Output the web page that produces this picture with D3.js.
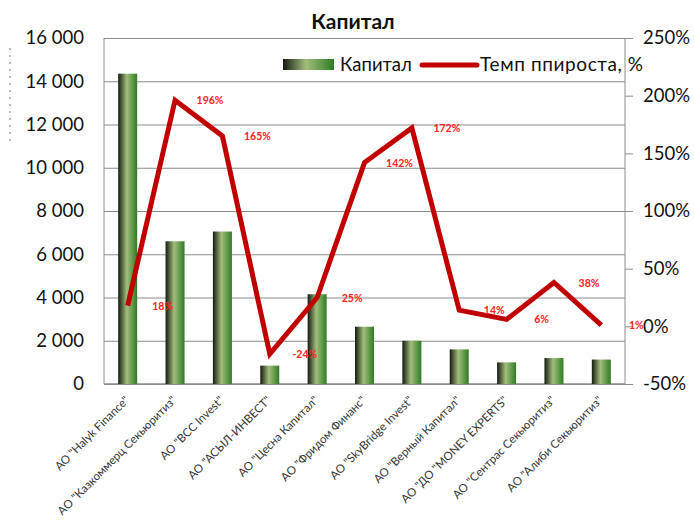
<!DOCTYPE html>
<html>
<head>
<meta charset="utf-8">
<script src="https://cdn.jsdelivr.net/npm/d3@7"></script>
<style>
body { margin: 0; background: #fff; }
text { font-family: Lato, "Open Sans", sans-serif; }
</style>
</head>
<body>
<div class="board"></div>
<script>
// data
let companies = ['АО "Halyk Finance"', 'АО "Казкоммерц Секьюритиз"', 'АО "BCC Invest"', 'АО "АСЫЛ-ИНВЕСТ"',
	'АО "Цесна Капитал"', 'АО "Фридом Финанс"', 'АО "SkyBridge Invest"', 'АО "Верный Капитал"',
	'АО "ДО "MONEY EXPERTS"', 'АО "Сентрас Секьюритиз"', 'АО "Алиби Секьюритиз"'];
let capital = [14350, 6600, 7050, 850, 4150, 2650, 2000, 1600, 1000, 1200, 1130];
let growth = [18, 196, 165, -24, 25, 142, 172, 14, 6, 38, 1];
let leftTicks = [0, 2000, 4000, 6000, 8000, 10000, 12000, 14000, 16000];
let rightTicks = [-50, 0, 50, 100, 150, 200, 250];

let width = 694, height = 521;
let margin = {top: 38, right: 69, bottom: 137, left: 104};

let svg = d3.select('.board').append('svg')
		.attr('width', width)
		.attr('height', height);

let x = d3.scaleBand().domain(companies).range([margin.left, width - margin.right]);
let yL = d3.scaleLinear().domain([0, 16000]).range([height - margin.bottom, margin.top]);
let yR = d3.scaleLinear().domain([-50, 250]).range([height - margin.bottom, margin.top]);

/////// GRADIENT ///////////////////////////////////////
let grad = svg.append('defs').append('linearGradient')
		.attr('id', 'barGrad')
		.attr('x1', '0%').attr('x2', '100%').attr('y1', '0%').attr('y2', '0%');
grad.append('stop').attr('offset', '0%').attr('stop-color', '#141a10');
grad.append('stop').attr('offset', '45%').attr('stop-color', '#a2be7c');
grad.append('stop').attr('offset', '100%').attr('stop-color', '#2e7b22');

/////// GRID & AXES ///////////////////////////////////////
let fmt = v => d3.format(',')(v).replace(/,/g, ' ');

svg.append('g')
	.attr('transform', `translate(${margin.left},0)`)
	.call(d3.axisLeft(yL).tickValues(leftTicks).tickSize(-(width - margin.left - margin.right)).tickFormat(fmt).tickPadding(20))
	.call(g => g.select('.domain').remove())
	.call(g => g.selectAll('.tick line').attr('stroke', '#8c8c8c'))
	.call(g => g.selectAll('.tick text').attr('font-size', 18.5).attr('fill', '#111'));

svg.append('g')
	.attr('transform', `translate(${width - margin.right},0)`)
	.call(d3.axisRight(yR).tickValues(rightTicks).tickSize(8).tickFormat(d => d + '%').tickPadding(10))
	.call(g => g.select('.domain').remove())
	.call(g => g.selectAll('.tick line').attr('stroke', '#8c8c8c'))
	.call(g => g.selectAll('.tick text').attr('font-size', 18.5).attr('fill', '#111'));

// plot frame lines
svg.append('line')
	.attr('x1', margin.left).attr('x2', margin.left)
	.attr('y1', margin.top).attr('y2', yL(0))
	.attr('stroke', '#8c8c8c');
svg.append('line')
	.attr('x1', width - margin.right).attr('x2', width - margin.right)
	.attr('y1', margin.top).attr('y2', yL(0))
	.attr('stroke', '#8c8c8c');
svg.append('line')
	.attr('x1', margin.left).attr('x2', width - margin.right)
	.attr('y1', yL(0)).attr('y2', yL(0))
	.attr('stroke', '#8c8c8c').attr('stroke-width', 1.5);

// clipped axis title remnant on the left edge
svg.append('line')
	.attr('x1', 10).attr('x2', 10).attr('y1', 48).attr('y2', 145)
	.attr('stroke', '#777').attr('stroke-dasharray', '2,5');

/////// BARS ///////////////////////////////////////
let barW = 19;
svg.selectAll('rect.bar')
	.data(capital)
	.enter().append('rect')
		.attr('class', 'bar')
		.attr('x', (d, i) => x(companies[i]) + x.bandwidth() / 2 - barW / 2)
		.attr('y', d => yL(d))
		.attr('width', barW)
		.attr('height', d => yL(0) - yL(d))
		.attr('fill', 'url(#barGrad)');

/////// LINE ///////////////////////////////////////
let line = d3.line()
	.x((d, i) => x(companies[i]) + x.bandwidth() / 2)
	.y(d => yR(d));

svg.append('path')
	.datum(growth)
	.attr('d', line)
	.attr('fill', 'none')
	.attr('stroke', '#c00000')
	.attr('stroke-width', 5)
	.attr('stroke-linejoin', 'miter');

svg.selectAll('text.lbl')
	.data(growth)
	.enter().append('text')
		.attr('class', 'lbl')
		.attr('x', (d, i) => x(companies[i]) + x.bandwidth() / 2 + 35)
		.attr('y', d => yR(d) + 4)
		.attr('text-anchor', 'middle')
		.attr('font-size', 10.5)
		.attr('font-weight', 'bold')
		.attr('fill', '#ff2020')
		.text(d => d + '%');

/////// X LABELS ///////////////////////////////////////
svg.selectAll('text.cat')
	.data(companies)
	.enter().append('text')
		.attr('class', 'cat')
		.attr('transform', d => `translate(${x(d) + x.bandwidth() / 2 + 2},${yL(0) + 17}) rotate(-45)`)
		.attr('text-anchor', 'end')
		.attr('font-size', 11.5)
		.attr('fill', '#333')
		.text(d => d);

/////// TITLE & LEGEND ///////////////////////////////////////
svg.append('text')
	.attr('x', 353).attr('y', 29)
	.attr('text-anchor', 'middle')
	.attr('font-size', 21)
	.attr('font-weight', 'bold')
	.attr('fill', '#111')
	.text('Капитал');

svg.append('rect')
	.attr('x', 283).attr('y', 59).attr('width', 51).attr('height', 11)
	.attr('fill', 'url(#barGrad)');
svg.append('text')
	.attr('x', 340).attr('y', 71)
	.attr('font-size', 18.5).attr('fill', '#111')
	.text('Капитал');
svg.append('line')
	.attr('x1', 422).attr('x2', 477).attr('y1', 65).attr('y2', 65)
	.attr('stroke', '#c00000').attr('stroke-width', 5).attr('stroke-linecap', 'round');
svg.append('text')
	.attr('x', 480).attr('y', 71)
	.attr('font-size', 19).attr('letter-spacing', 0.6).attr('fill', '#111')
	.text('Темп ппироста, %');
</script>
</body>
</html>
